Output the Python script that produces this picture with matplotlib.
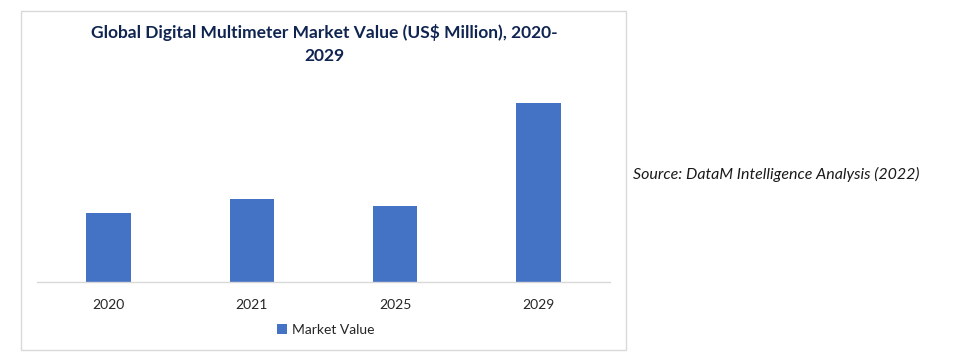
import matplotlib.pyplot as plt
from matplotlib.patches import Rectangle

years = ["2020", "2021", "2025", "2029"]
market_value = [690, 830, 760, 1790]

plt.rcParams["font.family"] = ["Lato", "DejaVu Sans"]

fig = plt.figure(figsize=(9.62, 3.62), dpi=100)
W, H = 962, 362

# chart frame
fig.patches.append(Rectangle((21 / W, 1 - 350 / H), 605 / W, 339 / H,
                             transform=fig.transFigure, fill=False,
                             edgecolor="#d9d9d9", linewidth=1.0))

ax = fig.add_axes([37 / W, 1 - 282 / H, 573 / W, 192 / H])
bars = ax.bar(years, market_value, width=0.31, color="#4472c4",
              label="Market Value")
ax.set_xlim(-0.5, 3.5)
ax.set_ylim(0, 1920)
for s in ["top", "left", "right"]:
    ax.spines[s].set_visible(False)
ax.spines["bottom"].set_color("#d9d9d9")
ax.spines["bottom"].set_linewidth(1.0)
ax.set_yticks([])
ax.tick_params(axis="x", length=0, pad=12, labelsize=10, labelcolor="#262626")

fig.text(324 / W, 1 - 44 / H,
         "Global Digital Multimeter Market Value (US$ Million), 2020-\n2029",
         ha="center", va="center", fontsize=12.5, fontweight="bold",
         color="#0f2451", linespacing=1.5)

fig.legend(handles=[bars], labels=["Market Value"], loc="center",
           bbox_to_anchor=(326 / W, 1 - 330 / H), frameon=False,
           fontsize=10, handlelength=0.7, handleheight=0.7,
           handletextpad=0.4, labelcolor="#262626")

fig.text(633 / W, 1 - 174 / H, "Source: DataM Intelligence Analysis (2022)",
         ha="left", va="center", fontsize=11.5, fontstyle="italic",
         color="#1a1a1a")

fig.savefig("out.png", dpi=100)
